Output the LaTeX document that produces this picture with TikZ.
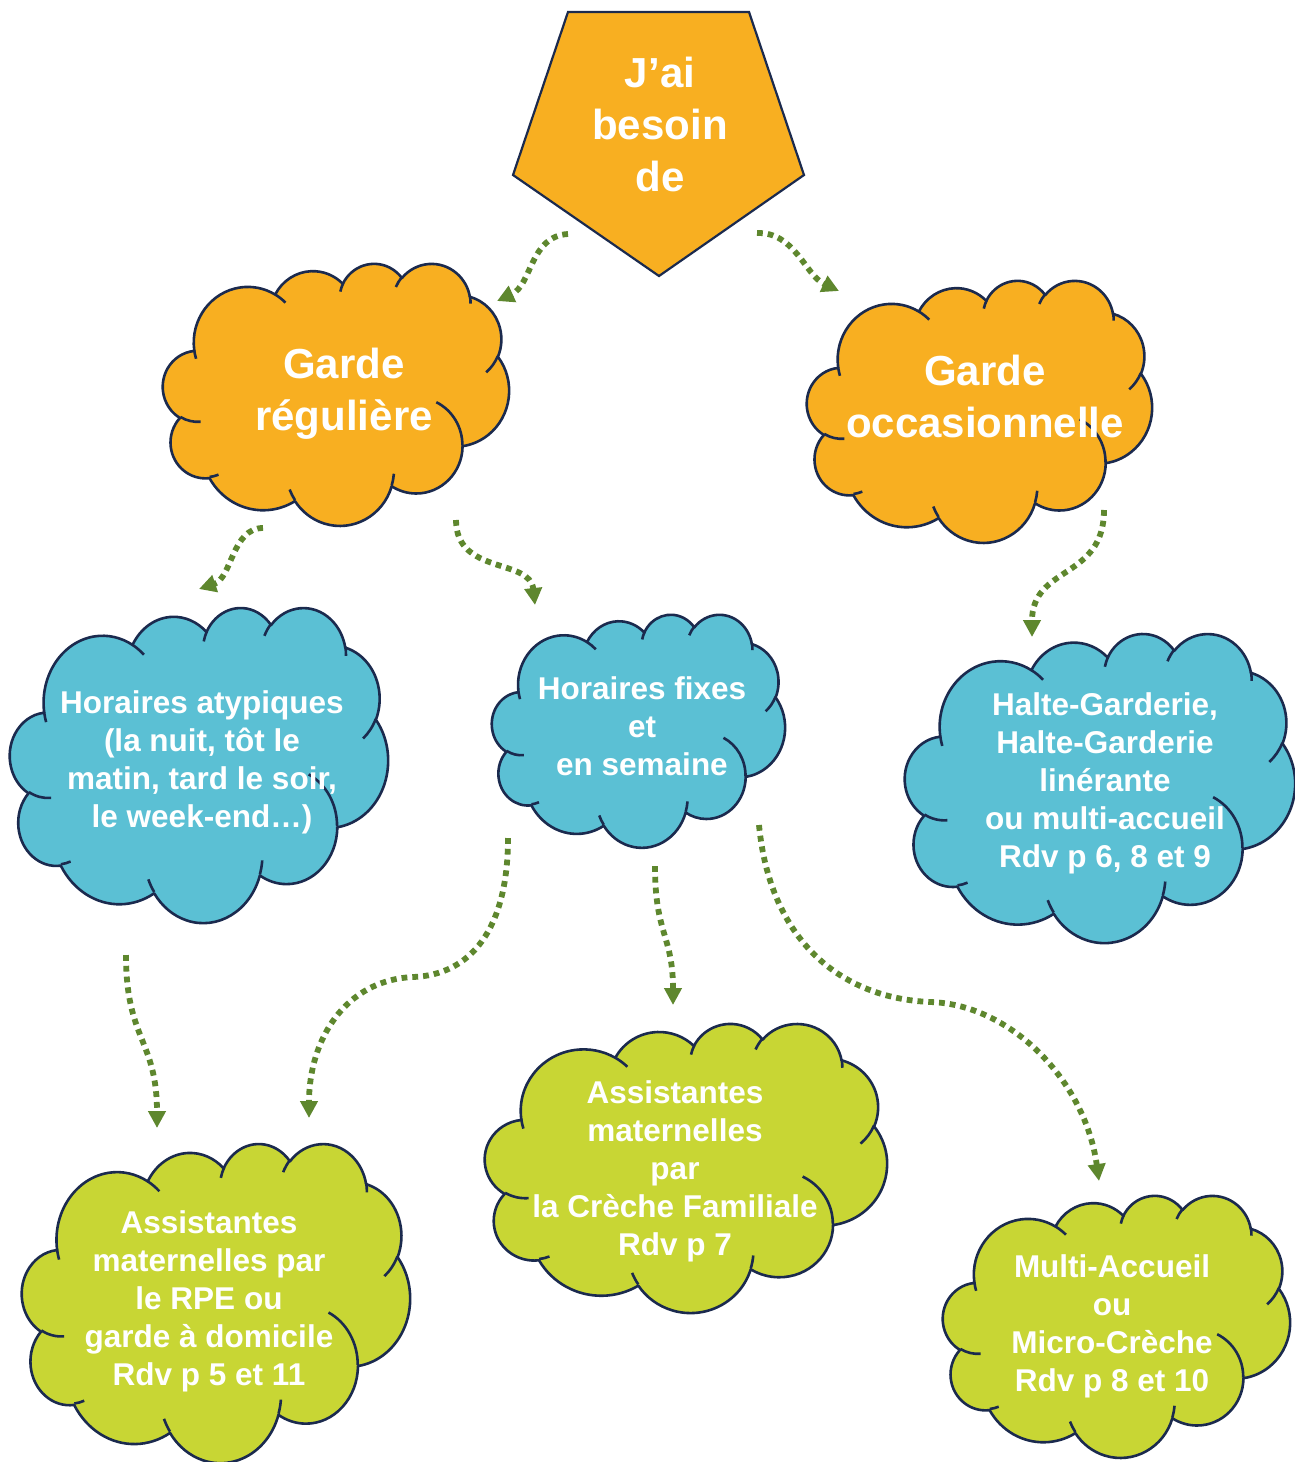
\documentclass[tikz,border=0pt]{standalone}
\usepackage{fontspec}
\setmainfont{Liberation Sans}
\usetikzlibrary{arrows.meta}

\definecolor{orng}{RGB}{248,175,33}
\definecolor{skyb}{RGB}{91,192,212}
\definecolor{lime}{RGB}{200,214,52}
\definecolor{navy}{RGB}{27,42,78}
\definecolor{conng}{RGB}{94,135,46}

% DrawingML arcTo angles are visual angles; convert to parametric ones
\pgfmathdeclarefunction{ooang}{3}{%
  \begingroup
    \pgfmathparse{atan2(#2*sin(#1),#3*cos(#1))}%
    \pgfmathsetmacro\ooraw{\pgfmathresult}%
    \pgfmathparse{\ooraw+360*round((#1-\ooraw)/360)}%
    \pgfmathsmuggle\pgfmathresult
  \endgroup}

\newcommand\ooarc[4]{arc[x radius=#1, y radius=#2, start angle={ooang(#3,#1,#2)}, end angle={ooang(#3+#4,#1,#2)}]}

% PowerPoint-like cloud: fill colour, left, top, width, height (pixels)
\newcommand\ppcloud[5]{%
  \begin{scope}[shift={(#2,#3)}, xscale={#4/432}, yscale={#5/432}]
    \path[cloudline, fill=#1] (39,143.7)
      \ooarc{67.53}{91.90}{-190.48748}{123.78053}
      \ooarc{53.33}{72.67}{-144.10238}{89.94523}
      \ooarc{43.65}{59.45}{-145.80792}{99.72302}
      \ooarc{48.57}{65.95}{-130.98607}{117.24173}
      \ooarc{53.33}{72.73}{-78.70888}{109.02692}
      \ooarc{67.75}{92.20}{-46.26725}{130.26900}
      \ooarc{57.85}{78.67}{0.62502}{114.03333}
      \ooarc{67.52}{92.15}{22.45160}{115.17255}
      \ooarc{77.20}{105.43}{66.24263}{75.71102}
      \ooarc{43.60}{59.18}{-274.94208}{146.73557}
      \ooarc{43.45}{59.45}{-246.82850}{152.51885}
      -- cycle;
    \path[cloudline]
      (46.93,261.77) \ooarc{43.45}{59.45}{86.74200}{26.42950}
      (69.28,348.99) \ooarc{43.60}{59.18}{73.61047}{11.44747}
      (164.78,390.90) \ooarc{67.52}{92.15}{137.62415}{14.08110}
      (288.27,347.51) \ooarc{67.52}{92.15}{6.45327}{15.99835}
      (341.29,229.54) \ooarc{57.85}{78.67}{-70.29235}{70.91737}
      (417.98,153.54) \ooarc{53.33}{72.73}{30.31803}{27.75150}
      (383.24,54.26) \ooarc{48.57}{65.95}{-13.74433}{14.85890}
      (290.78,39.52) \ooarc{48.57}{65.95}{-149.18145}{18.19537}
      (221.41,47.20) \ooarc{43.65}{59.45}{-163.49427}{17.68635}
      (140.00,51.92) \ooarc{67.53}{91.90}{-66.70695}{12.31935}
      (41.27,157.89) \ooarc{67.53}{91.90}{157.65435}{11.85817};
  \end{scope}}

\tikzset{
  cloudline/.style={draw=navy, line width=1.3pt, line join=round},
  penta/.style={draw=navy, line width=1.1pt, fill=orng, line join=miter},
  bigtxt/.style={text=white, align=center, inner sep=0pt,
    font=\bfseries\fontsize{21}{26}\selectfont},
  smalltxt/.style={text=white, align=center, inner sep=0pt,
    font=\bfseries\fontsize{15.75}{19}\selectfont},
  conn/.style={draw=conng, line width=2.9pt, dash pattern=on 2.9pt off 2.5pt,
    -{Triangle[length=8.5pt,width=8.5pt]}}
}

\begin{document}
\begin{tikzpicture}[x=0.5pt, y=-0.5pt]
  \path[fill=white, use as bounding box] (0,0) rectangle (1295,1462);

  % top pentagon
  \coordinate (p1) at (568,12);
  \coordinate (p2) at (749,12);
  \coordinate (p3) at (804,175);
  \coordinate (p4) at (659,276);
  \coordinate (p5) at (513,175);
  \draw[penta] (p1) -- (p2) -- (p3) -- (p4) -- (p5) -- cycle;
  \node[bigtxt] (besoin) at (660,124) {J’ai\\besoin\\de};

  % clouds
  \ppcloud{orng}{163}{263}{346}{262}
  \node[bigtxt] (reguliere) at (344,394) {Garde\\régulière};

  \ppcloud{orng}{807}{280}{345}{262}
  \node[bigtxt] (occas) at (985,396) {Garde\\occasionnelle};

  \ppcloud{skyb}{10}{607}{378}{315}
  \node[smalltxt] (atyp) at (202,762) {Horaires atypiques\\(la nuit, tôt le\\matin, tard le soir,\\le week-end…)};

  \ppcloud{skyb}{492}{614}{293}{233}
  \node[smalltxt] (fixes) at (642,726) {Horaires fixes\\et\\en semaine};

  \ppcloud{skyb}{905}{633}{390}{309}
  \node[smalltxt] (halte) at (1105,783) {Halte-Garderie,\\Halte-Garderie\\linérante\\ou multi-accueil\\Rdv p 6, 8 et 9};

  \ppcloud{lime}{22}{1143}{388}{319}
  \node[smalltxt] (rpe) at (209,1301) {Assistantes\\maternelles par\\le RPE ou\\garde à domicile\\Rdv p 5 et 11};

  \ppcloud{lime}{485}{1023}{402}{289}
  \node[smalltxt] (creche) at (675,1171) {Assistantes\\maternelles\\par\\la Crèche Familiale\\Rdv p 7};

  \ppcloud{lime}{943}{1195}{347}{262}
  \node[smalltxt] (multi) at (1112,1326) {Multi-Accueil\\ou\\Micro-Crèche\\Rdv p 8 et 10};

  % connector end points
  \coordinate (a0) at (568,234);  \coordinate (a1) at (497,301);
  \coordinate (b0) at (757,233);  \coordinate (b1) at (839,291);
  \coordinate (c0) at (263,528);  \coordinate (c1) at (199,589);
  \coordinate (d0) at (456,520);  \coordinate (d1) at (535,605);
  \coordinate (e0) at (1104,510); \coordinate (e1) at (1032,637);
  \coordinate (f0) at (126,955);  \coordinate (f1) at (157,1128);
  \coordinate (g0) at (508,838);  \coordinate (g1) at (309,1118);
  \coordinate (h0) at (655,866);  \coordinate (h1) at (673,1005);
  \coordinate (i0) at (759,825);  \coordinate (i1) at (1099,1181);

  \draw[conn] (a0) .. controls (530,236) and (532,285) .. (a1);
  \draw[conn] (b0) .. controls (795,232) and (805,275) .. (b1);
  \draw[conn] (c0) .. controls (232,528) and (232,578) .. (c1);
  \draw[conn] (d0) .. controls (456,575) and (530,558) .. (d1);
  \draw[conn] (e0) .. controls (1104,580) and (1032,565) .. (e1);
  \draw[conn] (f0) .. controls (126,1040) and (157,1040) .. (f1);
  \draw[conn] (g0) .. controls (508,930) and (470,975) .. (413,977)
                   .. controls (345,980) and (309,1040) .. (g1);
  \draw[conn] (h0) .. controls (655,935) and (673,935) .. (h1);
  \draw[conn] (i0) .. controls (770,940) and (840,998) .. (930,1002)
                   .. controls (1010,1004) and (1085,1080) .. (i1);
\end{tikzpicture}
\end{document}
